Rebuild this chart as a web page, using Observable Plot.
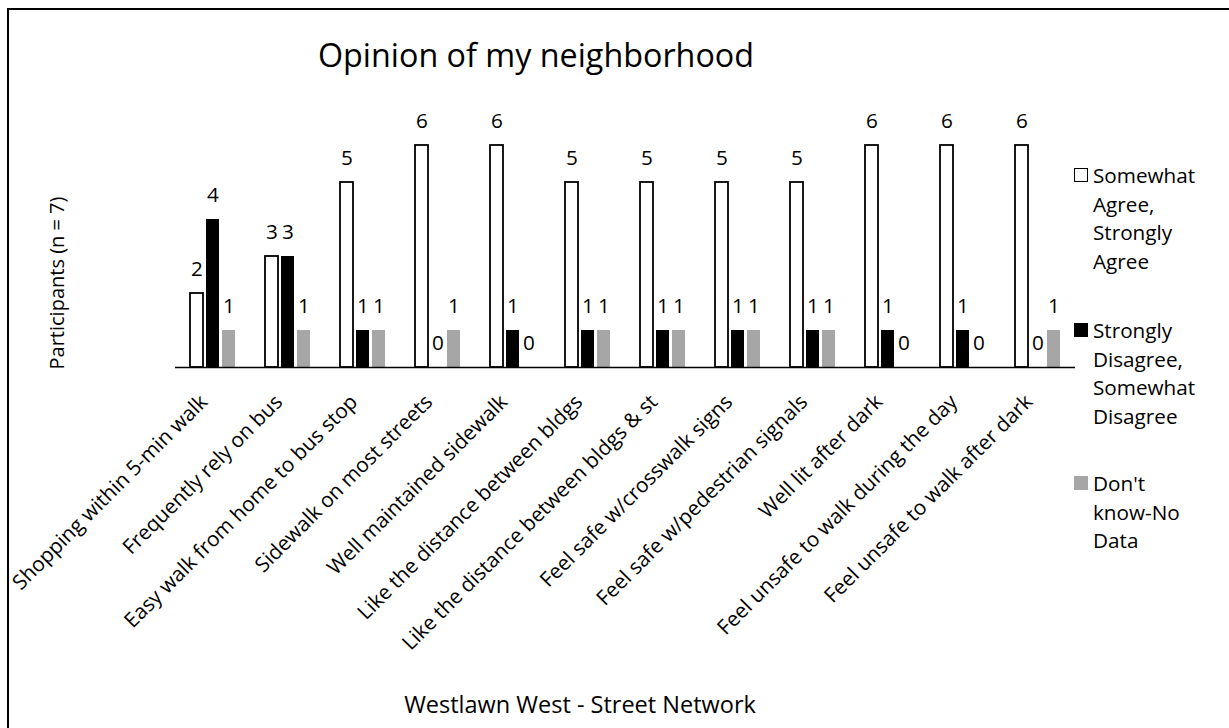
<!DOCTYPE html>
<html><head><meta charset="utf-8">
<script src="https://cdn.jsdelivr.net/npm/d3@7"></script>
<script src="https://cdn.jsdelivr.net/npm/@observablehq/plot@0.6"></script>
<style>
body{margin:0;background:#fff;font-family:"Open Sans",sans-serif;color:#000;}
#wrap{position:relative;width:1229px;height:728px;overflow:hidden;background:#fff;}
#wrap svg{position:absolute;left:0;top:0;}
.border{position:absolute;left:7px;top:8px;width:2000px;height:2000px;border-left:2px solid #000;border-top:2px solid #000;box-sizing:border-box;}
.c{position:absolute;transform:translate(-50%,-50%);white-space:nowrap;line-height:1.2;}
.title{font-size:32.3px;}
.xt{font-size:23.5px;}
.yt{font-size:20px;}
.leg{position:absolute;left:1074px;font-size:20.7px;line-height:28.5px;white-space:nowrap;}
.leg .sw{position:absolute;left:0;top:7px;width:14px;height:14px;box-sizing:border-box;}
.leg .tx{margin-left:19px;}
</style></head><body><div id="wrap"><div class="border"></div></div>
<script>
const categories = [
  "Shopping within 5-min walk",
  "Frequently rely on bus",
  "Easy walk from home to bus stop",
  "Sidewalk on most streets",
  "Well maintained sidewalk",
  "Like the distance between bldgs",
  "Like the distance between bldgs & st",
  "Feel safe w/crosswalk signs",
  "Feel safe w/pedestrian signals",
  "Well lit after dark",
  "Feel unsafe to walk during the day",
  "Feel unsafe to walk after dark"
];
const seriesNames = ["Somewhat Agree, Strongly Agree", "Strongly Disagree, Somewhat Disagree", "Don't know-No Data"];
const agree    = [2, 3, 5, 6, 6, 5, 5, 5, 5, 6, 6, 6];
const disagree = [4, 3, 1, 0, 1, 1, 1, 1, 1, 1, 1, 0];
const dontKnow = [1, 1, 1, 1, 0, 1, 1, 1, 1, 0, 0, 1];
const titleText = "Opinion of my neighborhood";
const yTitle = "Participants (n = 7)";
const xTitle = "Westlawn West - Street Network";
const legendLines = [["Somewhat","Agree,","Strongly","Agree"],["Strongly","Disagree,","Somewhat","Disagree"],["Don't","know-No","Data"]];

const seriesValues = [agree, disagree, dontKnow];
const rows = categories.flatMap((c, i) => seriesNames.map((s, j) => ({cat: c, series: s, value: seriesValues[j][i]})));

const font = '"Open Sans", sans-serif';
const chart = Plot.plot({
  width: 1229, height: 728,
  marginLeft: 175, marginRight: 154, marginTop: 145, marginBottom: 361,
  style: {fontFamily: font, background: "transparent", overflow: "visible"},
  fx: {domain: categories, padding: 0},
  x: {domain: seriesNames, paddingInner: 0.2, paddingOuter: 0.83, axis: null},
  y: {domain: [0, 6], axis: null},
  marks: [
    Plot.barY(rows.filter(d => d.series === seriesNames[0]), {fx: "cat", x: "series", y: "value", fill: "white", stroke: "black", strokeWidth: 1.8, inset: 0}),
    Plot.barY(rows.filter(d => d.series === seriesNames[1] && d.value > 0), {fx: "cat", x: "series", y: "value", fill: "black", inset: 0}),
    Plot.barY(rows.filter(d => d.series === seriesNames[2] && d.value > 0), {fx: "cat", x: "series", y: "value", fill: "#a6a6a6", inset: 0}),
    Plot.ruleY([0], {stroke: "black", strokeWidth: 1.7}),
    Plot.text(rows, {fx: "cat", x: "series", y: "value", text: d => String(d.value), dy: -24, lineAnchor: "middle", fontSize: 20.7, fill: "black"}),
    Plot.axisFx({anchor: "bottom", tickRotate: -45, tickSize: 0, tickPadding: 31, dx: -9, fontSize: 20.7, label: null, fill: "black"})
  ]
});
const wrap = document.getElementById("wrap");
wrap.appendChild(chart);

function addDiv(cls, text, x, y, extra) {
  const d = document.createElement("div");
  d.className = cls;
  d.textContent = text;
  d.style.left = x + "px"; d.style.top = y + "px";
  if (extra) d.style.transform = extra;
  wrap.appendChild(d);
}
addDiv("c title", titleText, 536, 54);
addDiv("c xt", xTitle, 580, 704);
addDiv("c yt", yTitle, 57, 283, "translate(-50%,-50%) rotate(-90deg)");

const legTops = [161, 316, 469];
const swStyles = ["background:#fff;border:1.5px solid #000;", "background:#000;", "background:#a6a6a6;"];
legendLines.forEach((lines, i) => {
  const d = document.createElement("div");
  d.className = "leg";
  d.style.top = legTops[i] + "px";
  d.innerHTML = `<div class="sw" style="${swStyles[i]}"></div><div class="tx">${lines.join("<br>")}</div>`;
  wrap.appendChild(d);
});
</script></body></html>
